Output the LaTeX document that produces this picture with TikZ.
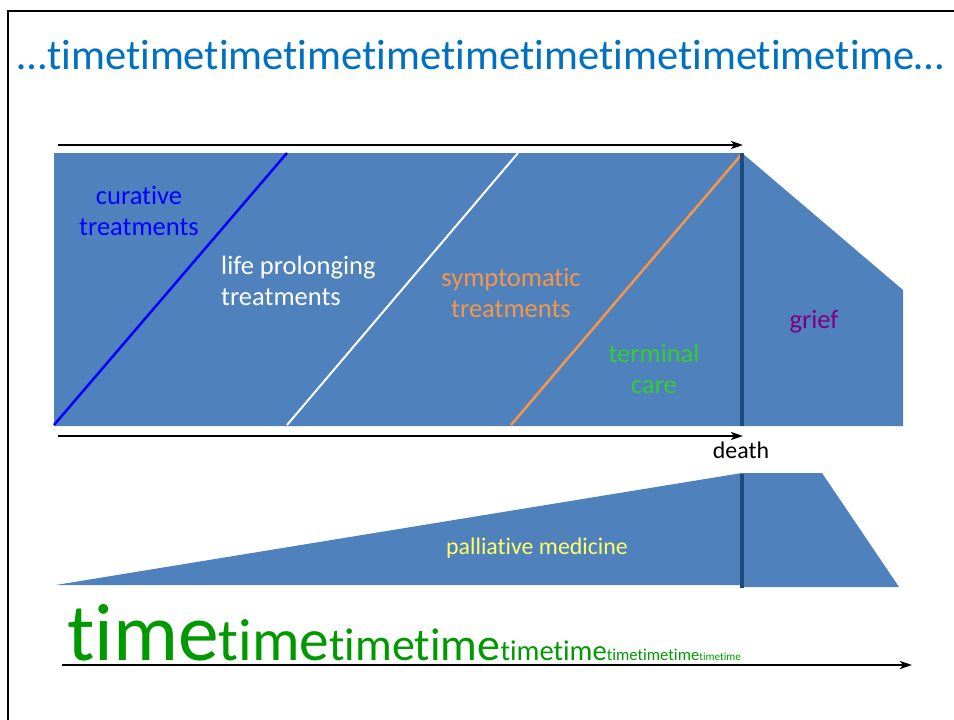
\documentclass[tikz,border=0pt]{standalone}
\usepackage{fontspec}
\setmainfont{Carlito}[Ligatures={NoCommon,NoRequired,NoContextual}]
\usetikzlibrary{arrows.meta}
\definecolor{fillblue}{HTML}{4F81BD}
\definecolor{deathline}{HTML}{1F4A7E}
\definecolor{titleblue}{HTML}{0070C0}
\definecolor{orangec}{HTML}{F79646}
\definecolor{termgreen}{HTML}{33CC33}
\definecolor{timegreen}{HTML}{009900}
\definecolor{griefpurple}{HTML}{800080}
\definecolor{palyellow}{HTML}{FFFF66}
\begin{document}
\begin{tikzpicture}[x=1pt,y=-1pt,
  lbl/.style={inner sep=0pt, align=center, font=\fontsize{26.5}{31.5}\selectfont},
  smalllbl/.style={inner sep=0pt, font=\fontsize{23.85}{28}\selectfont},
  timearrow/.style={line width=2.7pt, -{Stealth[length=12pt,width=8pt,inset=3pt]}},
  phaseline/.style={line width=2.5pt},
  deathmark/.style={deathline, line width=4.5pt},
  area/.style={fillblue}]
\useasboundingbox (0,0) rectangle (954,720);
\fill[white] (0,0) rectangle (954,720);
\clip (0,0) rectangle (954,720);
% slide frame
\draw[line width=2pt] (8,730) -- (8,11) -- (965,11);
% title
\node[anchor=base, inner sep=0pt, text=titleblue, font=\fontsize{42.5}{50}\selectfont] (title) at (481,69)
  {…timetimetimetimetimetimetimetimetimetimetime…};
% coordinates
\coordinate (a1s) at (58,145);
\coordinate (a1e) at (743,145);
\coordinate (a2s) at (58,436);
\coordinate (a2e) at (743,436);
\coordinate (a3s) at (62,665);
\coordinate (a3e) at (912,665);
\coordinate (d1t) at (742,153);
\coordinate (d1b) at (742,426);
\coordinate (d2t) at (742,474);
\coordinate (d2b) at (742,588);
% upper area
\fill[area] (54,153) -- (742,153) -- (903,290) -- (903,426) -- (54,426) -- cycle;
\draw[phaseline, blue] (54,425) -- (287,153);
\draw[phaseline, white, line width=2pt] (287,425) -- (518,153);
\draw[phaseline, orangec] (511,425) -- (741,155);
\draw[deathmark] (d1t) -- (d1b);
% arrows
\draw[timearrow] (a1s) -- (a1e);
\draw[timearrow] (a2s) -- (a2e);
% labels
\node[lbl, text=blue] (cur) at (139,211) {curative\\treatments};
\node[lbl, text=white, align=left, anchor=west] (life) at (221,281) {life prolonging\\treatments};
\node[lbl, text=orangec] (sym) at (511,293) {symptomatic\\treatments};
\node[lbl, text=termgreen] (term) at (654,369) {terminal\\care};
\node[lbl, text=griefpurple] (grief) at (814,322) {grief};
\node[smalllbl] (death) at (741,450) {death};
% lower area
\fill[area] (56,585) -- (742,473) -- (742,585) -- cycle;
\fill[area] (742,473) -- (822,473) -- (899,587) -- (742,587) -- cycle;
\draw[deathmark] (d2t) -- (d2b);
\node[smalllbl, text=palyellow] (pal) at (537,548) {palliative medicine};
% bottom time
\node[anchor=base west, inner sep=0pt, text=timegreen] (times) at (67,660)
  {\fontsize{81.5}{82}\selectfont time\fontsize{59.5}{60}\selectfont time\fontsize{46}{47}\selectfont timetime\fontsize{28.6}{30}\selectfont timetime\fontsize{16.6}{18}\selectfont timetimetime\fontsize{11.2}{12}\selectfont timetime};
\draw[timearrow] (a3s) -- (a3e);
\end{tikzpicture}
\end{document}
